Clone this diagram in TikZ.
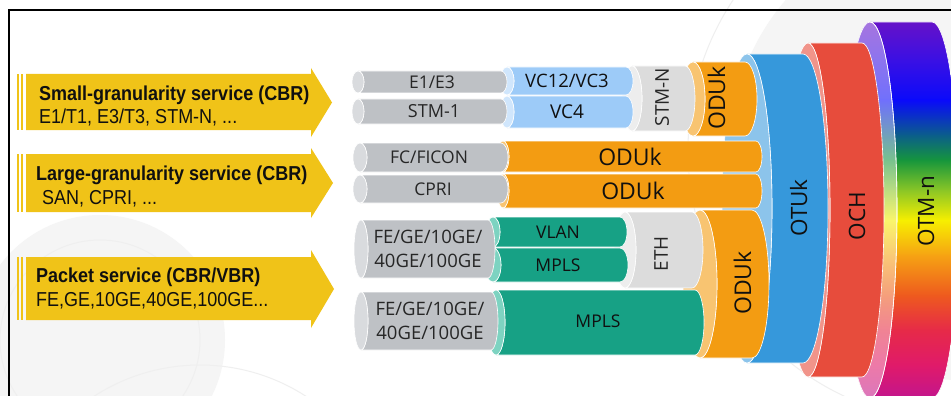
\documentclass[tikz,border=0pt]{standalone}
\usepackage{fontspec}
\setmainfont{Liberation Sans}
\newfontfamily\pipefont{Open Sans}
\definecolor{arrowyellow}{HTML}{F0C318}
\definecolor{txtdark}{HTML}{101010}
\definecolor{txtgray}{HTML}{262626}
\definecolor{graybody}{HTML}{BEC1C5}
\definecolor{grayface}{HTML}{D9DBDE}
\definecolor{bluebody}{HTML}{9DCBF8}
\definecolor{blueface}{HTML}{D0E6FC}
\definecolor{lgbody}{HTML}{DCDCDC}
\definecolor{lgface}{HTML}{EDEDED}
\definecolor{orbody}{HTML}{F39C12}
\definecolor{orface}{HTML}{F8C471}
\definecolor{tealbody}{HTML}{17A185}
\definecolor{tealface}{HTML}{7DD3C1}
\definecolor{otubody}{HTML}{3698DB}
\definecolor{otuface}{HTML}{8CC4EB}
\definecolor{ochbody}{HTML}{E74C3C}
\definecolor{ochface}{HTML}{F1948A}
\definecolor{wmfill}{HTML}{F5F5F5}
\definecolor{wmline}{HTML}{EFEFEF}
\definecolor{rbA}{HTML}{6A12C6}
\definecolor{rbB}{HTML}{3A10E4}
\definecolor{rbC}{HTML}{0A0AFA}
\definecolor{rbD}{HTML}{0B5E8A}
\definecolor{rbE}{HTML}{16963C}
\definecolor{rbF}{HTML}{8AC626}
\definecolor{rbG}{HTML}{F7EF00}
\definecolor{rbH}{HTML}{F6A313}
\definecolor{rbI}{HTML}{EE5A1E}
\definecolor{rbJ}{HTML}{E62A48}
\definecolor{rbK}{HTML}{E01A6A}
\definecolor{rbL}{HTML}{BF1590}
% #1 x0, #2 x1, #3 ytop, #4 ybot, #5 end radius, #6 body colour, #7 face colour
\newcommand\pipetube[7]{%
  \pgfmathsetmacro\pry{(#4-#3)/2}%
  \pgfmathsetmacro\pcy{(#4+#3)/2}%
  \path[fill=#6, draw=white, line width=0.6pt] (#1,#3) -- (#2,#3)
    arc[start angle=-90, end angle=90, x radius=#5, y radius=\pry] -- (#1,#4)
    arc[start angle=90, end angle=-90, x radius=#5, y radius=\pry] -- cycle;
  \path[fill=#7, draw=white, line width=0.6pt] (#1,\pcy) ellipse[x radius=#5, y radius=\pry];
}
\newcommand\rainbowstrips[2]{%
  \shade[top color=rbA, bottom color=rbB] (#1,18) rectangle (#2,60.6);
  \shade[top color=rbB, bottom color=rbC] (#1,60) rectangle (#2,100.6);
  \shade[top color=rbC, bottom color=rbD] (#1,100) rectangle (#2,135.6);
  \shade[top color=rbD, bottom color=rbE] (#1,135) rectangle (#2,160.6);
  \shade[top color=rbE, bottom color=rbF] (#1,160) rectangle (#2,190.6);
  \shade[top color=rbF, bottom color=rbG] (#1,190) rectangle (#2,220.6);
  \shade[top color=rbG, bottom color=rbH] (#1,220) rectangle (#2,255.6);
  \shade[top color=rbH, bottom color=rbI] (#1,255) rectangle (#2,295.6);
  \shade[top color=rbI, bottom color=rbJ] (#1,295) rectangle (#2,330.6);
  \shade[top color=rbJ, bottom color=rbK] (#1,330) rectangle (#2,365.6);
  \shade[top color=rbK, bottom color=rbL] (#1,365) rectangle (#2,402);
}
% #1 body top, #2 body bottom, #3 head top, #4 head bottom, #5 tip x
\newcommand\svcarrow[5]{%
  \fill[arrowyellow] (26,#1) -- (311,#1) -- (311,#3) -- (#5,{(#3+#4)/2}) -- (311,#4) -- (311,#2) -- (26,#2) -- cycle;
  \fill[arrowyellow] (16.5,#1) rectangle (18.5,#2);
  \fill[arrowyellow] (20.5,#1) rectangle (23,#2);
}
\begin{document}
\begin{tikzpicture}[x=1pt, y=-1pt,
  lbl/.style={font={\pipefont\fontsize{#1}{#1}\selectfont}, inner sep=0pt,
    text height=\dimexpr #1pt*714/1000\relax, text depth=0pt, text=txtdark},
  glbl/.style={lbl=#1, text=txtgray},
  svctitle/.style={font={\fontsize{18}{18}\selectfont\bfseries}, inner sep=0pt, anchor=base west, text=txtdark},
  svcsub/.style={font={\fontsize{18}{18}\selectfont}, inner sep=0pt, anchor=base west, text=txtdark}]
\useasboundingbox (0,0) rectangle (951,396);
\fill[white] (0,0) rectangle (951,396);
\clip (0,0) rectangle (951,396);
% faint watermark circles
\fill[wmfill] (100,340) circle[radius=125];
\draw[wmline, line width=1pt] (100,340) circle[radius=100];
\draw[wmline, line width=1pt] (200,560) circle[radius=195];
\fill[wmfill] (960,150) circle[radius=230];
\draw[wmline, line width=1pt] (960,150) circle[radius=272];
% service arrows
\svcarrow{74}{130}{68}{137}{332}
\svcarrow{154}{212}{148}{218}{333}
\svcarrow{257}{320}{250}{328}{334}
\node[svctitle] (t1) at (39,100) {\scalebox{1}[1.12]{Small-granularity service (CBR)}};
\node[svcsub] (s1) at (39,124) {\scalebox{1}[1.12]{E1/T1, E3/T3, STM-N, ...}};
\node[svctitle] (t2) at (36,180) {\scalebox{1}[1.12]{Large-granularity service (CBR)}};
\node[svcsub] (s2) at (42,204) {\scalebox{1}[1.12]{SAN, CPRI, ...}};
\node[svctitle] (t3) at (36,282) {\scalebox{1}[1.12]{Packet service (CBR/VBR)}};
\node[svcsub] (s3) at (36,306) {\scalebox{1}[1.12]{FE,GE,10GE,40GE,100GE...}};
% OTM-n (rainbow)
\begin{scope}
  \clip (870,22) -- (932,22) arc[start angle=-90, end angle=90, x radius=27, y radius=188]
    -- (870,398) arc[start angle=90, end angle=-90, x radius=27, y radius=188] -- cycle;
  \rainbowstrips{835}{975}
\end{scope}
\begin{scope}
  \clip (870,210) ellipse[x radius=27, y radius=188];
  \rainbowstrips{835}{975}
  \fill[white, opacity=0.42] (835,0) rectangle (975,400);
\end{scope}
\draw[white, line width=0.6pt] (870,22) -- (932,22) arc[start angle=-90, end angle=90, x radius=27, y radius=188]
    -- (870,398) arc[start angle=90, end angle=-90, x radius=27, y radius=188] -- cycle;
\draw[white, line width=0.6pt] (870,210) ellipse[x radius=27, y radius=188];
% OCH, OTUk
\pipetube{808}{862}{43}{377}{22}{ochbody}{ochface}
\pipetube{747}{803}{54}{363}{25}{otubody}{otuface}
% ODUk tubes
\pipetube{693}{745}{62}{136}{12}{orbody}{orface}
\pipetube{700}{752}{210}{358}{17}{orbody}{orface}
\pipetube{503}{756}{141}{172}{6}{orbody}{orface}
\pipetube{503}{756}{174}{208}{6}{orbody}{orface}
% STM-N, ETH
\pipetube{632}{685}{66}{131}{10}{lgbody}{lgface}
\pipetube{625}{692}{212}{288}{11}{lgbody}{lgface}
% VC tubes
\pipetube{507}{626}{67}{95}{7}{bluebody}{blueface}
\pipetube{507}{626}{96}{128}{7}{bluebody}{blueface}
% packet tubes
\pipetube{493}{620}{217}{247}{7}{tealbody}{tealface}
\pipetube{493}{620}{248}{282}{8}{tealbody}{tealface}
\pipetube{496}{695}{290}{355}{9}{tealbody}{tealface}
% client tubes
\pipetube{358}{501}{71}{93}{6}{graybody}{grayface}
\pipetube{358}{501}{99}{124}{6}{graybody}{grayface}
\pipetube{360}{501}{143}{172}{7}{graybody}{grayface}
\pipetube{360}{501}{175}{203}{7}{graybody}{grayface}
\pipetube{361}{488}{220}{278}{7}{graybody}{grayface}
\pipetube{361}{491}{292}{350}{7}{graybody}{grayface}
% labels
\node[glbl=17.5] (e1) at (432,82) {E1/E3};
\node[glbl=18] (stm1) at (434,111.5) {STM-1};
\node[lbl=18.5] (vc12) at (567,81) {VC12/VC3};
\node[lbl=19] (vc4) at (567,112) {VC4};
\node[glbl=17.5] (fc) at (429,157.5) {FC/FICON};
\node[glbl=17.5] (cpri) at (433,189) {CPRI};
\node[lbl=23] (odua) at (630,157) {ODUk};
\node[lbl=23] (odub) at (633,191) {ODUk};
\node[glbl=18.5] (fea1) at (428,237) {FE/GE/10GE/};
\node[glbl=18.5] (fea2) at (428,261) {40GE/100GE};
\node[glbl=18.5] (feb1) at (430,309) {FE/GE/10GE/};
\node[glbl=18.5] (feb2) at (430,333) {40GE/100GE};
\node[lbl=17.5] (vlan) at (558,232) {VLAN};
\node[lbl=17.5] (mplsa) at (558,265) {MPLS};
\node[lbl=17.5] (mplsb) at (598,321) {MPLS};
\node[glbl=19, rotate=90] (eth) at (661,254) {ETH};
\node[glbl=19, rotate=90] (stmn) at (662,97) {STM-N};
\node[lbl=23, rotate=90] (oduc) at (717,98) {ODUk};
\node[lbl=23, rotate=90] (odud) at (743,283) {ODUk};
\node[lbl=22.5, rotate=90] (otu) at (799,208) {OTUk};
\node[lbl=22.5, rotate=90] (och) at (857,216) {OCH};
\node[lbl=22.5, rotate=90] (otm) at (926,211) {OTM-n};
% frame
\draw[black, line width=1.6pt] (9,400) -- (9,10) -- (955,10);
\end{tikzpicture}
\end{document}
